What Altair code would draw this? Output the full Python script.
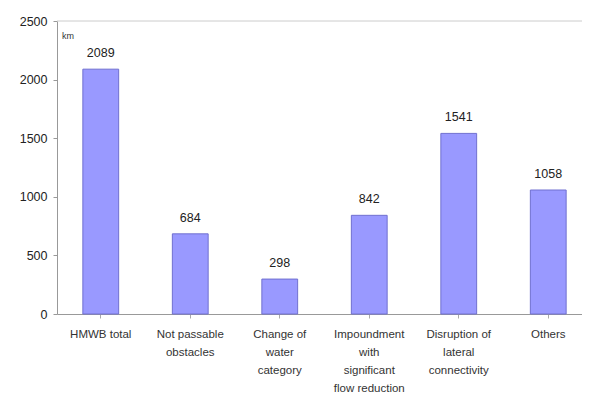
import altair as alt
import pandas as pd

categories = ["HMWB total", "Not passable|obstacles", "Change of|water|category",
              "Impoundment|with|significant|flow reduction", "Disruption of|lateral|connectivity", "Others"]
values = [2089, 684, 298, 842, 1541, 1058]

df = pd.DataFrame({"cat": categories, "km": values})

x = alt.X("cat:N", sort=None, title=None,
          scale=alt.Scale(paddingInner=0.6, paddingOuter=0.233, align=0.62),
          axis=alt.Axis(labelAngle=0, labelExpr="split(datum.value, '|')",
                        labelFont="Liberation Sans", labelFontSize=11.5, labelColor="#333",
                        labelPadding=10, ticks=True, tickColor="#aaa", tickSize=4,
                        domainColor="#999", labelLineHeight=18))
y = alt.Y("km:Q", title=None,
          scale=alt.Scale(domain=[0, 2500], nice=False),
          axis=alt.Axis(values=[0, 500, 1000, 1500, 2000, 2500], grid=False, format="d",
                        labelFont="Liberation Sans", labelFontSize=12.5, labelColor="#222",
                        tickColor="#999", tickSize=4, domainColor="#999", labelPadding=6))

bars = alt.Chart(df).mark_bar(color="#9999ff", stroke="#7070d0", strokeWidth=1).encode(x=x, y=y)
text = alt.Chart(df).mark_text(dy=-16, font="Liberation Sans", fontSize=12.5, color="#222").encode(
    x=alt.X("cat:N", sort=None), y="km:Q", text="km:Q")
km = alt.Chart(pd.DataFrame({"t": ["km"]})).mark_text(
    font="Liberation Sans", fontSize=9, color="#333", align="left").encode(
    x=alt.value(5), y=alt.value(15), text="t:N")
top = alt.Chart(pd.DataFrame({"v": [2500]})).mark_rule(color="#ccc", strokeWidth=1).encode(y="v:Q")

chart = (bars + text + km + top).properties(
    width=525, height=293,
    autosize=alt.AutoSizeParams(type="none"),
    padding={"left": 49, "top": 13, "right": 0, "bottom": 78},
).configure_view(stroke=None)

chart.save("out.html", embed_options={"renderer": "svg", "actions": False})
